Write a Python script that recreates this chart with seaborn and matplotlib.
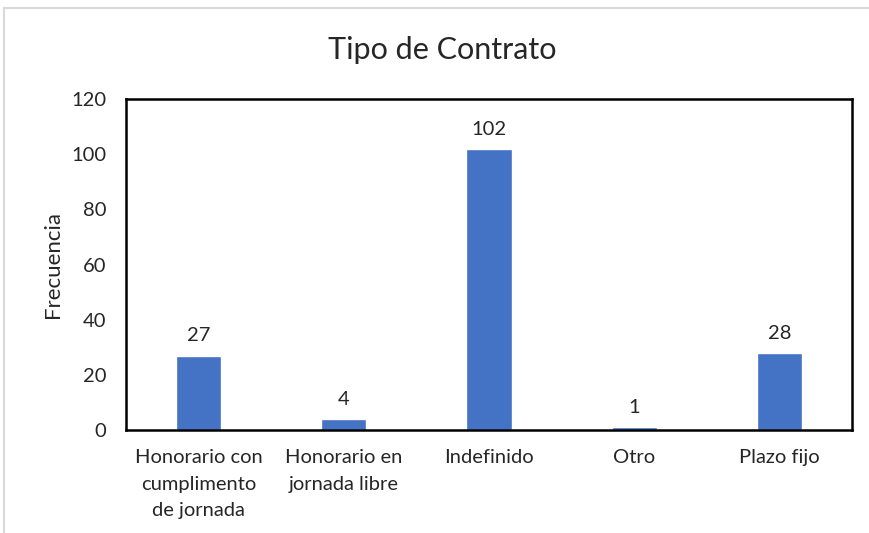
import matplotlib
matplotlib.use("Agg")
import matplotlib.pyplot as plt
import seaborn as sns
import pandas as pd
from matplotlib.lines import Line2D

categories = ["Honorario con\ncumplimento\nde jornada", "Honorario en\njornada libre", "Indefinido", "Otro", "Plazo fijo"]
values = [27, 4, 102, 1, 28]
yticks = [0, 20, 40, 60, 80, 100, 120]

sns.set_theme(style="white")
plt.rcParams['font.family'] = ['Lato', 'DejaVu Sans']

df = pd.DataFrame({"cat": categories, "val": values})

fig = plt.figure(figsize=(8.69, 5.33), dpi=100)
ax = fig.add_axes([126/869, 1-430/533, (852-126)/869, (430-99)/533])
sns.barplot(data=df, x="cat", y="val", color="#4472C4", width=0.31, ax=ax, saturation=1)

for i, v in enumerate(values):
    ax.annotate(str(v), (i, v), xytext=(0, 8), textcoords="offset points",
                ha="center", va="bottom", fontsize=14.5, color="#262626")

ax.set_ylim(0, 120)
ax.set_yticks(yticks)
ax.set_xlim(-0.5, len(values) - 0.5)
ax.tick_params(axis="both", labelsize=14.5, colors="#262626", length=0)
ax.tick_params(axis="y", pad=14)
ax.tick_params(axis="x", pad=14)
ax.set_xticks(range(len(categories)))
ax.set_xticklabels(categories, linespacing=1.65)
for s in ax.spines.values():
    s.set_visible(True)
    s.set_color("black")
    s.set_linewidth(1.8)
ax.set_xlabel("")
ax.set_ylabel("Frecuencia", fontsize=16, color="#262626", labelpad=6)
fig.text(442/869, 1-50/533, "Tipo de Contrato", ha="center", va="center", fontsize=22, color="#262626")

# outer light frame (cropped chart area)
fig.add_artist(Line2D([4/869, 1], [1-8/533, 1-8/533], transform=fig.transFigure, color="#d9d9d9", lw=1.5))
fig.add_artist(Line2D([4/869, 4/869], [0, 1-8/533], transform=fig.transFigure, color="#d9d9d9", lw=1.5))

fig.savefig("out.png", dpi=100)
